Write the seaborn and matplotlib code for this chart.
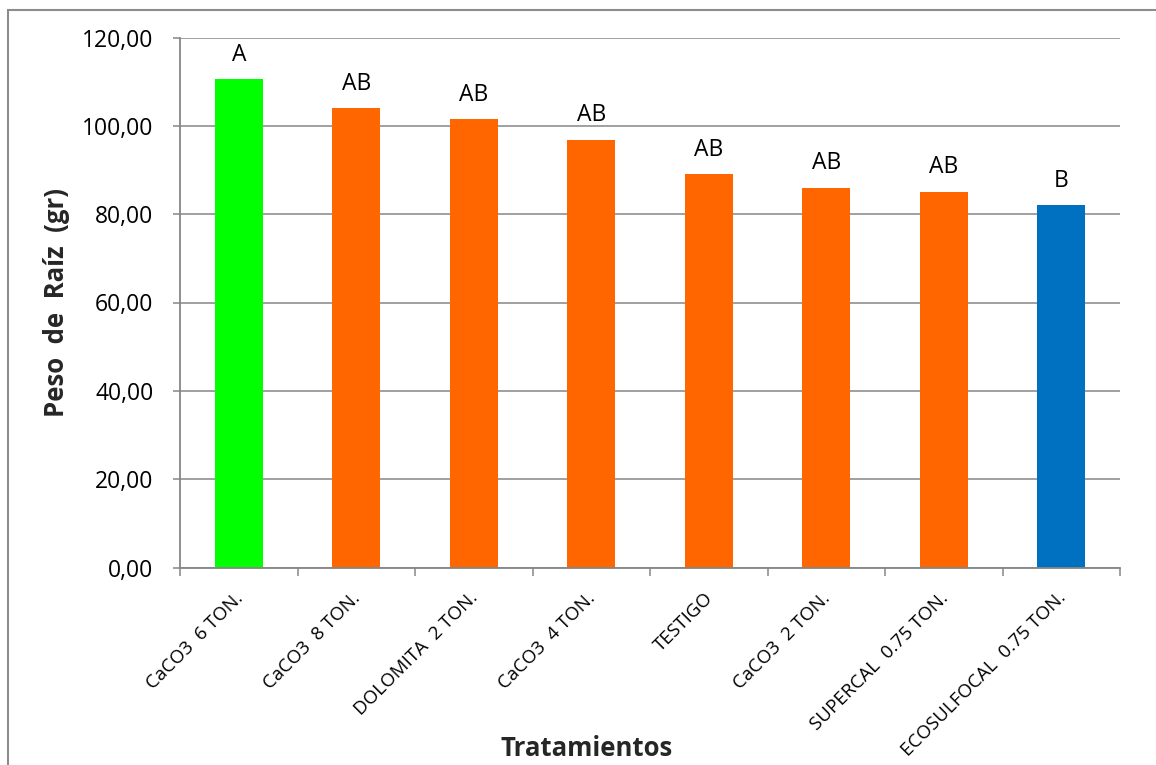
import matplotlib
matplotlib.use("Agg")
import matplotlib.pyplot as plt
import seaborn as sns
import pandas as pd
from matplotlib.patches import Rectangle
from matplotlib.ticker import FixedLocator, FuncFormatter

# Root weight per treatment with Tukey grouping letters
tratamientos = [
    "CaCO3  6 TON.",
    "CaCO3  8 TON.",
    "DOLOMITA  2 TON.",
    "CaCO3  4 TON.",
    "TESTIGO",
    "CaCO3  2 TON.",
    "SUPERCAL  0.75 TON.",
    "ECOSULFOCAL  0.75 TON.",
]
peso_raiz = [110.6, 104.0, 101.5, 96.9, 89.0, 86.0, 85.1, 82.0]
letras = ["A", "AB", "AB", "AB", "AB", "AB", "AB", "B"]
colores = ["#00FF00", "#FF6600", "#FF6600", "#FF6600",
           "#FF6600", "#FF6600", "#FF6600", "#0070C0"]
y_ticks = [0, 20, 40, 60, 80, 100, 120]

sns.set_theme(style="white")
plt.rcParams["font.family"] = ["Open Sans", "DejaVu Sans"]

df = pd.DataFrame({"Tratamiento": tratamientos, "Peso": peso_raiz})

W, H = 1156, 765
fig = plt.figure(figsize=(W / 100, H / 100), dpi=100)
ax = fig.add_axes([180 / W, 1 - 567.5 / H, (1120 - 180) / W, (567.5 - 37.5) / H])

sns.barplot(data=df, x="Tratamiento", y="Peso", hue="Tratamiento",
            order=tratamientos, hue_order=tratamientos, palette=colores,
            saturation=1, legend=False, width=0.41, linewidth=0, ax=ax)

grid_c = "#868686"
ax.set_ylim(0, 120)
ax.set_xlim(-0.5, len(tratamientos) - 0.5)
ax.yaxis.set_major_locator(FixedLocator(y_ticks))
ax.yaxis.set_major_formatter(FuncFormatter(lambda v, p: f"{v:.2f}".replace(".", ",")))
ax.grid(axis="y", color=grid_c, linewidth=1.1)
ax.set_axisbelow(True)

for side in ["top", "right"]:
    ax.spines[side].set_visible(False)
for side in ["left", "bottom"]:
    ax.spines[side].set_color(grid_c)
    ax.spines[side].set_linewidth(1.3)

ax.tick_params(axis="y", which="major", left=True, length=5, width=1.1,
               color=grid_c, labelsize=16.5, labelcolor="black", pad=14)

# category boundaries carry the x tick marks; labels sit at bar centres
ax.set_xticks([i - 0.5 for i in range(len(tratamientos) + 1)], minor=True)
ax.tick_params(axis="x", which="minor", bottom=True, length=6, width=1.1, color=grid_c)
ax.tick_params(axis="x", which="major", bottom=False, length=0, pad=19)
ax.set_xticks(range(len(tratamientos)))
ax.set_xticklabels(tratamientos, rotation=45, ha="right", va="center_baseline",
                   rotation_mode="anchor", fontsize=13.5, color="black")

for i, (v, l) in enumerate(zip(peso_raiz, letras)):
    ax.annotate(l, (i, v), xytext=(0, 8.8), textcoords="offset points",
                ha="center", va="bottom", fontsize=16.5, color="black")

ax.set_ylabel("")
ax.set_xlabel("")
fig.text(57 / W, 1 - 302.5 / H, "Peso  de  Raíz  (gr)", rotation=90,
         ha="center", va="center", fontsize=18.5, fontweight="bold")
fig.text(587 / W, 1 - 748 / H, "Tratamientos", ha="center", va="center",
         fontsize=18.5, fontweight="bold")

# outer chart frame
fig.patches.append(Rectangle((7.5 / W, -0.2), 1.2, 1.2 - 9.5 / H,
                             transform=fig.transFigure, fill=False,
                             edgecolor="#8c8c8c", linewidth=1.5))

fig.savefig("out.png", dpi=100)
